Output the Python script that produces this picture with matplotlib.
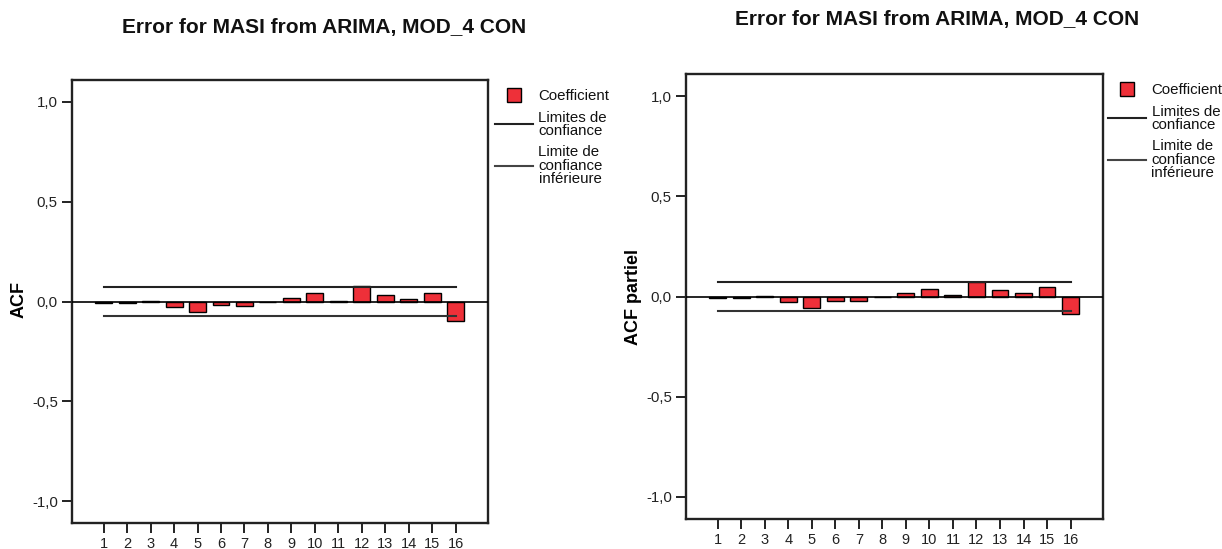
import numpy as np
import matplotlib.pyplot as plt
from matplotlib.lines import Line2D

plt.rcParams['font.family'] = ['Liberation Sans', 'DejaVu Sans']

lags = list(range(1, 17))
acf = [-0.007, -0.008, 0.004, -0.028, -0.053, -0.02, -0.021, -0.002,
       0.018, 0.042, 0.004, 0.08, 0.033, 0.013, 0.043, -0.097]
pacf = [-0.008, -0.008, 0.004, -0.028, -0.055, -0.02, -0.023, -0.003,
        0.015, 0.036, 0.005, 0.073, 0.032, 0.017, 0.047, -0.088]
conf_up = 0.074
conf_low = -0.074
title = "Error for MASI from ARIMA, MOD_4 CON"
yticks = [-1.0, -0.5, 0.0, 0.5, 1.0]
ytick_labels = ["-1,0", "-0,5", "0,0", "0,5", "1,0"]
legend_labels = ["Coefficient", "Limites de\nconfiance", "Limite de\nconfiance\ninférieure"]

W, H = 1222, 549
fig = plt.figure(figsize=(W / 100, H / 100), dpi=100)


def px_axes(x0, y0, x1, y1):
    return fig.add_axes([x0 / W, 1 - y1 / H, (x1 - x0) / W, (y1 - y0) / H])


def draw_panel(ax, values, ylabel, ylab_xy, ylab_size, leg_xy, title_xy):
    ax.bar(lags, values, width=0.72, color='#ee3039', edgecolor='black',
           linewidth=1.0, zorder=2)
    ax.axhline(0, color='black', lw=1.2, zorder=3)
    ax.plot([lags[0], lags[-1]], [conf_up, conf_up], color='#222222', lw=1.5, zorder=3)
    ax.plot([lags[0], lags[-1]], [conf_low, conf_low], color='#333333', lw=1.5, zorder=3)
    ax.set_xlim(-0.35, 17.38)
    ax.set_ylim(-1.11, 1.11)
    ax.set_xticks(lags)
    ax.set_xticklabels([str(l) for l in lags], fontsize=10.5, color='#222222')
    ax.set_yticks(yticks)
    ax.set_yticklabels(ytick_labels, fontsize=10.8, color='#222222')
    ax.tick_params(direction='out', length=7.2, width=1.4, color='#222222', pad=3)
    for s in ax.spines.values():
        s.set_linewidth(1.7)
        s.set_color('#222222')
    fig.text(ylab_xy[0] / W, 1 - ylab_xy[1] / H, ylabel, fontsize=ylab_size,
             fontweight='bold', rotation=90, ha='center', va='center')
    fig.text(title_xy[0] / W, 1 - title_xy[1] / H, title, fontsize=15, fontweight='bold',
             ha='center', va='center', color='#111111')
    handles = [
        Line2D([], [], marker='s', linestyle='none', markersize=10,
               markerfacecolor='#ee3039', markeredgecolor='black', markeredgewidth=1.0),
        Line2D([], [], color='#222222', lw=1.5),
        Line2D([], [], color='#444444', lw=1.5),
    ]
    leg = ax.legend(handles, legend_labels, loc='upper left',
                    bbox_to_anchor=(leg_xy[0] / W, 1 - leg_xy[1] / H),
                    bbox_transform=fig.transFigure, frameon=False, fontsize=10.8,
                    handlelength=2.5, handletextpad=0.4, borderpad=0, borderaxespad=0,
                    labelspacing=0.5)
    for t in leg.get_texts():
        t.set_linespacing(0.95)
        t.set_color('#111111')


ax1 = px_axes(72, 80, 488, 523)
draw_panel(ax1, acf, "ACF", (19, 300), 13, (495, 89), (324, 27))

ax2 = px_axes(686, 74, 1103, 519)
draw_panel(ax2, pacf, "ACF partiel", (633, 297), 13, (1108, 83), (937, 20))

fig.savefig("out.png", dpi=100)
